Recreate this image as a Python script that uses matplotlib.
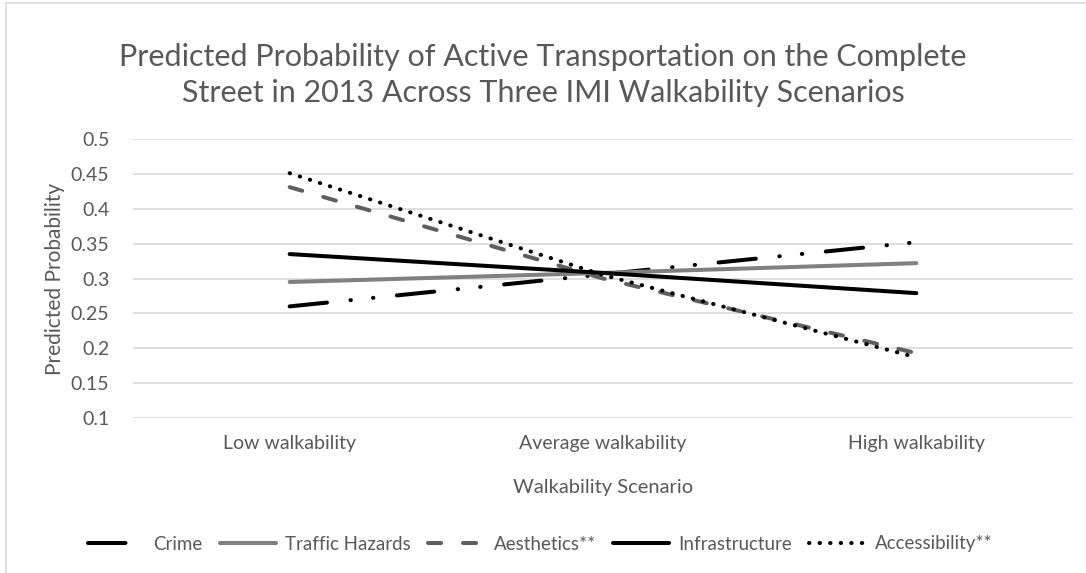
import matplotlib
matplotlib.use("Agg")
import matplotlib.pyplot as plt
from matplotlib.lines import Line2D

plt.rcParams['font.family'] = ['Lato', 'DejaVu Sans']
plt.rcParams['lines.scale_dashes'] = False

# data
scenarios = ["Low walkability", "Average walkability", "High walkability"]
crime = [0.260, 0.306, 0.352]
traffic_hazards = [0.295, 0.308, 0.322]
aesthetics = [0.431, 0.300, 0.193]
infrastructure = [0.335, 0.308, 0.279]
accessibility = [0.451, 0.305, 0.187]

txt = '#595959'
W, H = 1086, 573
fig = plt.figure(figsize=(W / 100, H / 100), dpi=100)
ax = fig.add_axes([133 / W, (H - 418) / H, 940 / W, 279 / H])

x = range(len(scenarios))
lw = 2.9
ax.plot(x, crime, color='black', lw=lw, label='Crime',
        dashes=(27, 17, 0.3, 16, 0.3, 17), dash_capstyle='round')
ax.plot(x, traffic_hazards, color='#808080', lw=lw, label='Traffic Hazards',
        solid_capstyle='round')
ax.plot(x, aesthetics, color='#5f5f5f', lw=lw, label='Aesthetics**',
        dashes=(9.4, 15.8), dash_capstyle='round')
ax.plot(x, infrastructure, color='black', lw=lw, label='Infrastructure',
        solid_capstyle='round')
ax.plot(x, accessibility, color='black', lw=lw, label='Accessibility**',
        dashes=(0.3, 7.3), dash_capstyle='round')

ax.set_xlim(-0.5, 2.5)
ax.set_ylim(0.1, 0.5)
ax.set_yticks([0.1, 0.15, 0.2, 0.25, 0.3, 0.35, 0.4, 0.45, 0.5])
ax.set_yticklabels(['0.1', '0.15', '0.2', '0.25', '0.3', '0.35', '0.4', '0.45', '0.5'])
ax.set_xticks(list(x))
ax.set_xticklabels(scenarios)
ax.tick_params(axis='both', length=0, labelsize=14, colors=txt)
ax.tick_params(axis='y', pad=17)
ax.tick_params(axis='x', pad=12)
ax.grid(axis='y', color='#d9d9d9', lw=1.2)
ax.set_axisbelow(True)
for s in ax.spines.values():
    s.set_visible(False)

ax.set_ylabel('Predicted Probability', fontsize=15, color=txt, labelpad=4)
ax.set_xlabel('Walkability Scenario', fontsize=14.5, color=txt, labelpad=20)

fig.text(0.5, 1 - 75 / H, 'Predicted Probability of Active Transportation on the Complete\n'
         'Street in 2013 Across Three IMI Walkability Scenarios',
         ha='center', va='center', fontsize=22, color=txt, linespacing=1.35)

leg = fig.legend(loc='center', bbox_to_anchor=(540 / W, 29 / H), ncol=5, frameon=False,
                 fontsize=13.5, handlelength=3.0, columnspacing=0.9, handletextpad=0.5)
for t in leg.get_texts():
    t.set_color(txt)

# chart area border (left and top visible)
fig.add_artist(Line2D([6 / W, 6 / W], [0, 1 - 3 / H], color='#d9d9d9', lw=1.2,
                      transform=fig.transFigure))
fig.add_artist(Line2D([6 / W, 1], [1 - 3 / H, 1 - 3 / H], color='#d9d9d9', lw=1.2,
                      transform=fig.transFigure))

fig.savefig('out.png', dpi=100)
